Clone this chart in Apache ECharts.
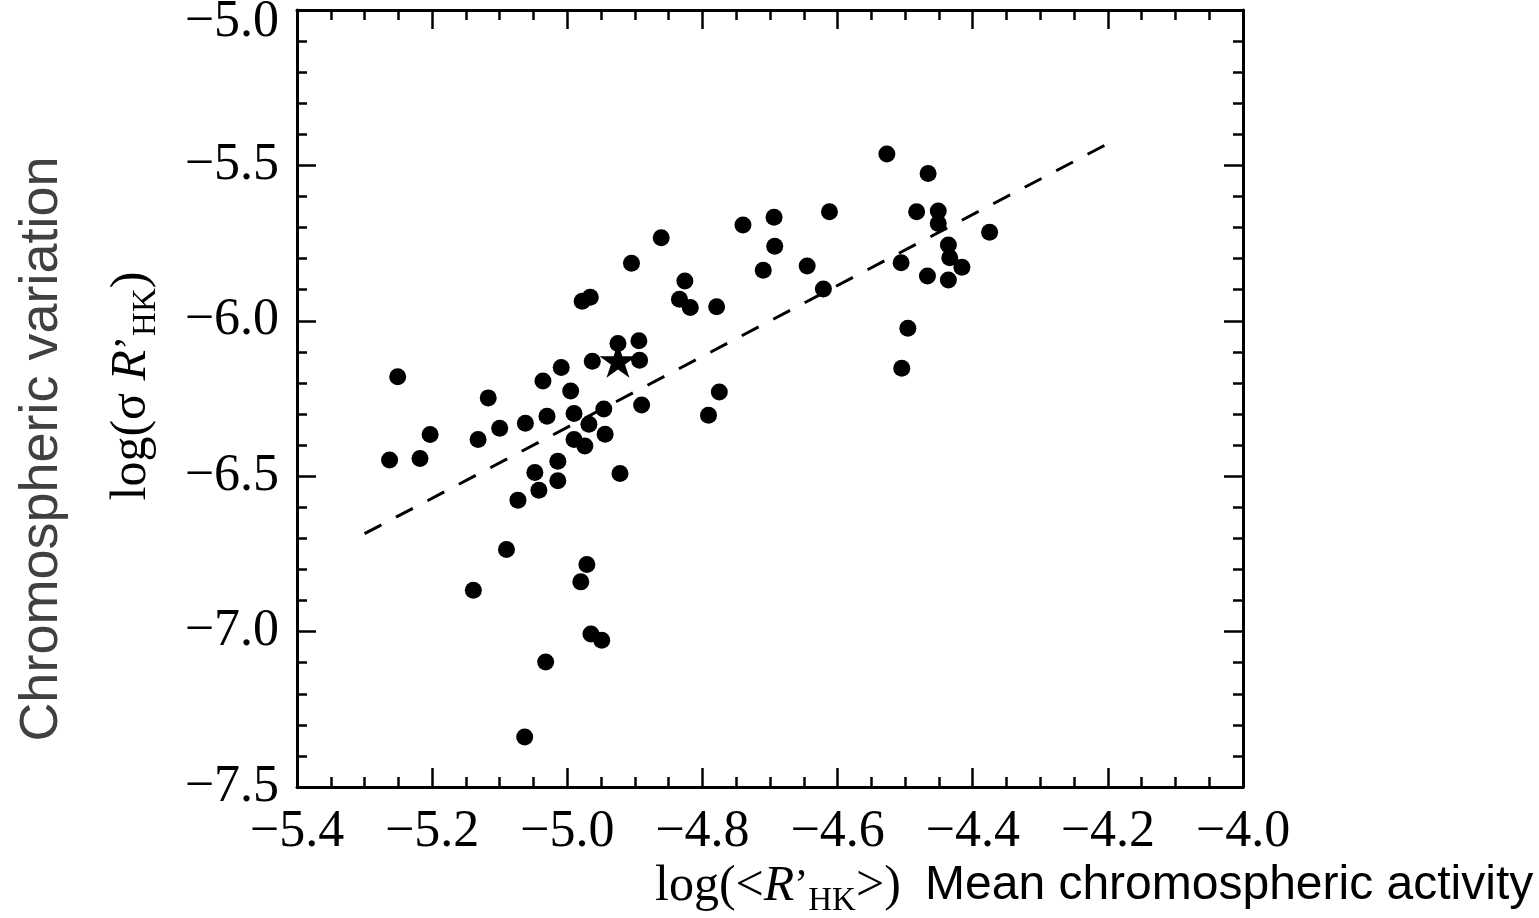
<!DOCTYPE html>
<html><head><meta charset="utf-8">
<script src="https://cdn.jsdelivr.net/npm/echarts@6/dist/echarts.min.js"></script>
<style>html,body{margin:0;padding:0;background:#fff}#c{width:1539px;height:918px}</style>
</head><body><div id="c"></div>
<script>
// ---- data ----
const xTicks = [-5.4, -5.2, -5.0, -4.8, -4.6, -4.4, -4.2, -4.0];
const yTicks = [-7.5, -7.0, -6.5, -6.0, -5.5, -5.0];
const ptsX = [-5.251,-5.263,-5.218,-5.203,-5.117,-5.132,-5.100,-5.062,-5.073,-5.042,
  -5.048,-5.036,-5.030,-5.014,-5.014,-5.009,-4.995,-4.990,-4.990,-4.974,
  -4.968,-4.963,-4.946,-4.944,-4.922,-4.925,-4.894,-4.893,-4.890,-4.905,
  -4.978,-4.966,-4.861,-4.826,-4.834,-4.818,-4.779,-4.775,-4.791,-4.740,
  -4.694,-4.693,-4.710,-4.645,-4.612,-4.621,-4.527,-4.466,-4.483,-4.451,
  -4.451,-4.375,-4.436,-4.434,-4.416,-4.506,-4.467,-4.436,-4.496,-4.505,
  -5.090,-5.139,-4.971,-4.980,-4.965,-4.949,-5.032,-5.063];
const ptsY = [-6.180,-6.448,-6.443,-6.366,-6.248,-6.382,-6.346,-6.330,-6.577,-6.545,
  -6.488,-6.194,-6.307,-6.452,-6.515,-6.150,-6.226,-6.298,-6.382,-6.403,
  -6.333,-6.130,-6.284,-6.365,-6.491,-6.073,-6.064,-6.127,-6.271,-5.815,
  -5.937,-5.924,-5.733,-5.872,-5.931,-5.957,-5.955,-6.229,-6.304,-5.692,
  -5.667,-5.760,-5.837,-5.824,-5.649,-5.898,-5.463,-5.526,-5.649,-5.647,
  -5.687,-5.715,-5.756,-5.797,-5.828,-5.813,-5.856,-5.869,-6.024,-6.153,
  -6.736,-6.867,-6.784,-6.840,-7.008,-7.028,-7.098,-7.339];
const starX = [-4.925];
const starY = [-6.127];
const fitX = [-5.30, -4.20];
const fitY = [-6.685, -5.43];

// ---- chart ----
const chart = echarts.init(document.getElementById('c'), null, {renderer: 'canvas'});
const fmt = v => (v < 0 ? '\u2212' : '') + Math.abs(v).toFixed(1);
const tickFont = {fontFamily: 'Liberation Serif', fontSize: 52, color: '#000'};
const STAR = 'path://M0,-100 L22.45,-30.9 L95.1,-30.9 L36.3,11.8 L58.8,80.9 L0,38.2 L-58.8,80.9 L-36.3,11.8 L-95.1,-30.9 L-22.45,-30.9 Z';

function xAx(pos, showLabel) {
  return {
    type: 'value', position: pos, min: xTicks[0], max: xTicks[xTicks.length - 1], interval: 0.2,
    axisLine: {show: true, onZero: false, lineStyle: {color: '#000', width: 3}},
    axisTick: {show: true, inside: true, length: 19, lineStyle: {color: '#000', width: 2.5}},
    minorTick: {show: true, splitNumber: 4, length: 10, lineStyle: {color: '#000', width: 2.5}},
    splitLine: {show: false}, minorSplitLine: {show: false},
    axisLabel: Object.assign({show: showLabel, margin: 19, formatter: fmt}, tickFont)
  };
}
function yAx(pos, showLabel) {
  return {
    type: 'value', position: pos, min: yTicks[0], max: yTicks[yTicks.length - 1], interval: 0.5,
    axisLine: {show: true, onZero: false, lineStyle: {color: '#000', width: 3}},
    axisTick: {show: true, inside: true, length: 19, lineStyle: {color: '#000', width: 2.5}},
    minorTick: {show: true, splitNumber: 5, length: 10, lineStyle: {color: '#000', width: 2.5}},
    splitLine: {show: false}, minorSplitLine: {show: false},
    axisLabel: Object.assign({show: showLabel, margin: 18,
      formatter: v => (Math.abs(v - yTicks[yTicks.length - 1]) < 1e-9 ? '{t|' + fmt(v) + '}' : fmt(v)),
      rich: {t: {fontFamily: 'Liberation Serif', fontSize: 52, color: '#000', padding: [24, 0, 0, 0]}}
    }, tickFont)
  };
}

const serifRich = {
  n: {fontFamily: 'Liberation Serif', fontSize: 50, fill: '#000', lineHeight: 62},
  i: {fontFamily: 'Liberation Serif', fontSize: 50, fontStyle: 'italic', fill: '#000', lineHeight: 62},
  p: {fontFamily: 'Liberation Serif', fontSize: 42, fill: '#000', lineHeight: 62},
  s: {fontFamily: 'Liberation Serif', fontSize: 33, fill: '#000', lineHeight: 31, verticalAlign: 'bottom'}
};

chart.setOption({
  animation: false,
  backgroundColor: '#fff',
  grid: {left: 297, right: 296, top: 10, bottom: 131, containLabel: false, outerBoundsMode: 'none'},
  xAxis: [xAx('bottom', true), xAx('top', false)],
  yAxis: [yAx('left', true), yAx('right', false)],
  series: [
    {type: 'line', xAxisIndex: 0, yAxisIndex: 0, silent: true, showSymbol: false, symbol: 'none',
     data: fitX.map((x, i) => [x, fitY[i]]),
     lineStyle: {color: '#000', width: 3, type: [19, 16.5]}},
    {type: 'scatter', xAxisIndex: 0, yAxisIndex: 0, symbol: 'circle', symbolSize: 17,
     itemStyle: {color: '#000', opacity: 1}, data: ptsX.map((x, i) => [x, ptsY[i]])},
    {type: 'scatter', xAxisIndex: 0, yAxisIndex: 0, symbol: STAR, symbolSize: [37, 35],
     itemStyle: {color: '#000', opacity: 1}, data: starX.map((x, i) => [x, starY[i]])}
  ],
  graphic: [
    {type: 'text', x: 42, y: 449, rotation: Math.PI / 2,
     style: {text: 'Chromospheric variation', font: '54px "Liberation Sans"', fill: '#404040',
             align: 'center', verticalAlign: 'middle'}},
    {type: 'text', x: 132, y: 386, rotation: Math.PI / 2,
     style: {text: '{n|log(\u03c3 }{i|R}{p|\u2019}{s|HK}{n|)}', rich: serifRich,
             align: 'center', verticalAlign: 'middle'}},
    {type: 'text', x: 655, y: 887,
     style: {text: '{n|log(<}{i|R}{p|\u2019}{s|HK}{n|>)}', rich: serifRich,
             align: 'left', verticalAlign: 'middle'}},
    {type: 'text', x: 925, y: 886,
     style: {text: 'Mean chromospheric activity', font: '48px "Liberation Sans"', fill: '#000',
             align: 'left', verticalAlign: 'middle'}}
  ]
});
</script>
</body></html>
